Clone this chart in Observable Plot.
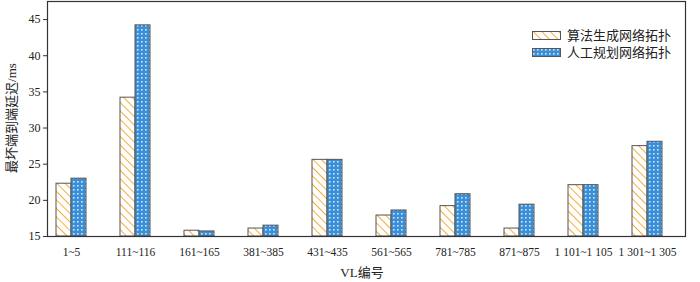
<!DOCTYPE html>
<html>
<head>
<meta charset="utf-8">
<script src="https://cdn.jsdelivr.net/npm/d3@7"></script>
<script src="https://cdn.jsdelivr.net/npm/@observablehq/plot@0.6"></script>
<style>
  html, body { margin: 0; padding: 0; background: #fff; }
  #wrap { position: relative; width: 700px; height: 282px; font-family: "Liberation Serif", "Noto Sans CJK SC", serif; }
  #legend { position: absolute; left: 532px; top: 27px; font-size: 13px; color: #222; line-height: 17px; }
  #legend .row { display: flex; align-items: center; height: 17px; }
  #legend svg { margin-right: 6px; }
  #ylabel { position: absolute; left: 10px; top: 118px; transform: translate(-50%, -50%) rotate(-90deg); font-size: 13px; white-space: nowrap; color: #222; }
</style>
</head>
<body>
<div id="wrap">
  <div id="chart"></div>
  <div id="ylabel">最坏端到端延迟/ms</div>
  <div id="legend"></div>
</div>
<script>
const categories = ["1~5", "111~116", "161~165", "381~385", "431~435", "561~565", "781~785", "871~875", "1 101~1 105", "1 301~1 305"];
const algorithmValues = [22.3, 34.2, 15.8, 16.1, 25.6, 17.9, 19.2, 16.1, 22.1, 27.5];
const manualValues   = [23.0, 44.2, 15.7, 16.5, 25.6, 18.6, 20.85, 19.4, 22.1, 28.1];
const seriesNames = ["算法生成网络拓扑", "人工规划网络拓扑"];
const yTicks = [15, 20, 25, 30, 35, 40, 45];

const dataA = categories.map((c, i) => ({cat: c, v: algorithmValues[i]}));
const dataB = categories.map((c, i) => ({cat: c, v: manualValues[i]}));

const chart = Plot.plot({
  width: 700,
  height: 282,
  marginLeft: 47,
  marginRight: 15,
  marginTop: 1,
  marginBottom: 46,
  style: {fontFamily: "'Liberation Serif', 'Noto Sans CJK SC', serif", fontSize: "12px", color: "#222", background: "#fff"},
  x: {type: "band", domain: categories, range: [47, 670], paddingInner: 0.534, paddingOuter: 0.093, label: null},
  y: {domain: [15, 47.5], label: null},
  marks: [
    Plot.barY(dataA, {x: "cat", y1: 15, y2: "v", fill: "url(#hatchOrange)", stroke: "#555", strokeWidth: 1, insetRight: 15, insetLeft: 0}),
    Plot.barY(dataB, {x: "cat", y1: 15, y2: "v", fill: "url(#dotBlue)", stroke: "#555", strokeWidth: 1, insetLeft: 15, insetRight: 0}),
    Plot.axisY({ticks: yTicks, tickSize: 4, tickPadding: 3, fontSize: 12, label: null, stroke: "#333"}),
    Plot.axisX({tickSize: 0, tickPadding: 11, fontSize: 11.5, label: null}),
    Plot.frame({stroke: "#333", strokeWidth: 1.2})
  ]
});

const defs = `
<defs>
  <pattern id="hatchOrange" patternUnits="userSpaceOnUse" width="6" height="6" patternTransform="rotate(-45)">
    <rect width="6" height="6" fill="#fff"/>
    <line x1="0" y1="0" x2="0" y2="6" stroke="#F5AE35" stroke-width="2"/>
  </pattern>
  <pattern id="dotBlue" patternUnits="userSpaceOnUse" width="4" height="4">
    <rect width="4" height="4" fill="#3B8FD9"/>
    <rect x="1" y="1" width="1.6" height="1.6" fill="#CFE6F8"/>
  </pattern>
</defs>`;
chart.insertAdjacentHTML("afterbegin", defs);
document.getElementById("chart").appendChild(chart);

// x-axis title
const xt = document.createElementNS("http://www.w3.org/2000/svg", "text");
xt.setAttribute("x", 362);
xt.setAttribute("y", 277);
xt.setAttribute("text-anchor", "middle");
xt.setAttribute("font-size", "13");
xt.setAttribute("fill", "#222");
xt.textContent = "VL编号";
chart.appendChild(xt);

const legend = document.getElementById("legend");
const fills = ["url(#hatchOrange)", "url(#dotBlue)"];
seriesNames.forEach((name, i) => {
  const row = document.createElement("div");
  row.className = "row";
  row.innerHTML = `<svg width="29" height="9"><rect x="0.5" y="0.5" width="28" height="8" fill="${fills[i]}" stroke="#555" stroke-width="1"/></svg><span>${name}</span>`;
  legend.appendChild(row);
});
</script>
</body>
</html>
